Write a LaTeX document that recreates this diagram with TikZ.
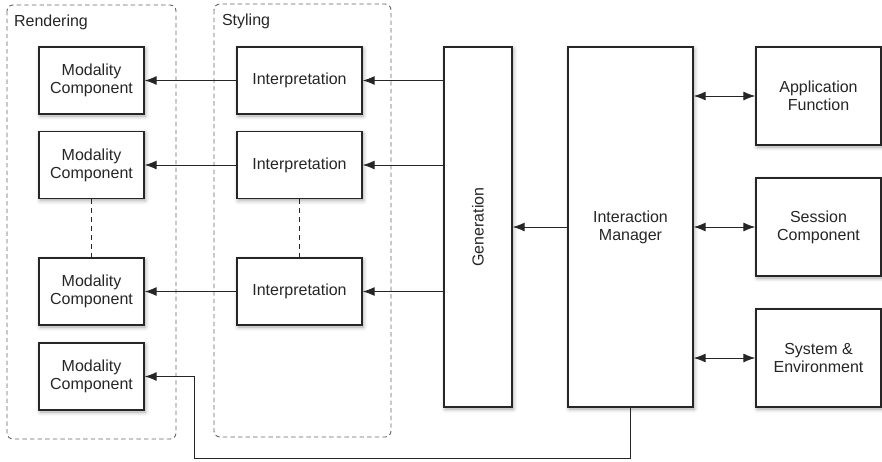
\documentclass[tikz,border=0pt]{standalone}
\usepackage{fontspec}
\setmainfont{Liberation Sans}
\usetikzlibrary{arrows.meta,shadows.blur}

\begin{document}
\begin{tikzpicture}[x=0.5pt,y=-0.5pt,>={Latex[length=6pt,width=4.5pt]},
	font=\fontsize{8}{9}\selectfont,
	box/.style={draw=black!85,line width=0.65pt,fill=white,align=center,text=black!85,inner sep=0pt,
		blur shadow={shadow xshift=0.6pt,shadow yshift=-1pt,shadow blur steps=6,shadow opacity=35}},
	group/.style={draw=black!60,dash pattern=on 2.2pt off 1.6pt,line width=0.45pt,rounded corners=3pt},
	link/.style={draw=black!85,line width=0.5pt}]
			\useasboundingbox (0,0) rectangle (882,461);
			% groups
			\draw[group] (7,5) rectangle (176,439);
			\draw[group] (214,4) rectangle (391,437);
			\node[anchor=west,text=black!85] (rendlbl) at (7,22) {Rendering};
			\node[anchor=west,text=black!85] (stylbl) at (215,21) {Styling};
			% rendering
			\node[box,minimum width=52.5pt,minimum height=33.5pt] (mod1) at (91.5,80.5) {Modality\\Component};
			\node[box,minimum width=52.5pt,minimum height=33.5pt] (mod2) at (91.5,165) {Modality\\Component};
			\node[box,minimum width=52.5pt,minimum height=33.5pt] (mod3) at (91.5,291.5) {Modality\\Component};
			\node[box,minimum width=52.5pt,minimum height=33.5pt] (mod4) at (91.5,376.5) {Modality\\Component};
			% styling
			\node[box,minimum width=62.5pt,minimum height=33.5pt] (int1) at (299.5,80.5) {Interpretation};
			\node[box,minimum width=62.5pt,minimum height=33.5pt] (int2) at (299.5,165) {Interpretation};
			\node[box,minimum width=62.5pt,minimum height=33.5pt] (int3) at (299.5,291.5) {Interpretation};
			% core
			\node[box,minimum width=34pt,minimum height=180pt] (gen) at (478,227) {};
			\node[rotate=90,text=black!85] (genlbl) at (gen.center) {Generation};
			\node[box,minimum width=62.5pt,minimum height=180pt] (im) at (630.5,227) {Interaction\\Manager};
			\node[box,minimum width=62.5pt,minimum height=49pt] (app) at (818.5,96) {Application\\Function};
			\node[box,minimum width=62.5pt,minimum height=49pt] (sess) at (818.5,227) {Session\\Component};
			\node[box,minimum width=62.5pt,minimum height=49pt] (sys) at (818.5,358) {System \&\\Environment};
			% connections
			\draw[link,->] (im.west |- gen) -- (gen.east);
			\draw[link,<->] (im.east |- app) -- (app.west);
			\draw[link,<->] (im.east |- sess) -- (sess.west);
			\draw[link,<->] (im.east |- sys) -- (sys.west);
			\foreach \i in {1,2,3}{
				\draw[link,->] (gen.west |- int\i) -- (int\i.east);
				\draw[link,->] (int\i.west) -- (mod\i.east);
			}
			\draw[link,dash pattern=on 2.5pt off 2pt] (mod2.south) -- (mod3.north);
			\draw[link,dash pattern=on 2.5pt off 2pt] (int2.south) -- (int3.north);
			\coordinate (turn) at (194,458);
			\draw[link,->] (im.south) |- (turn) |- (mod4.east);
		\end{tikzpicture}
\end{document}
